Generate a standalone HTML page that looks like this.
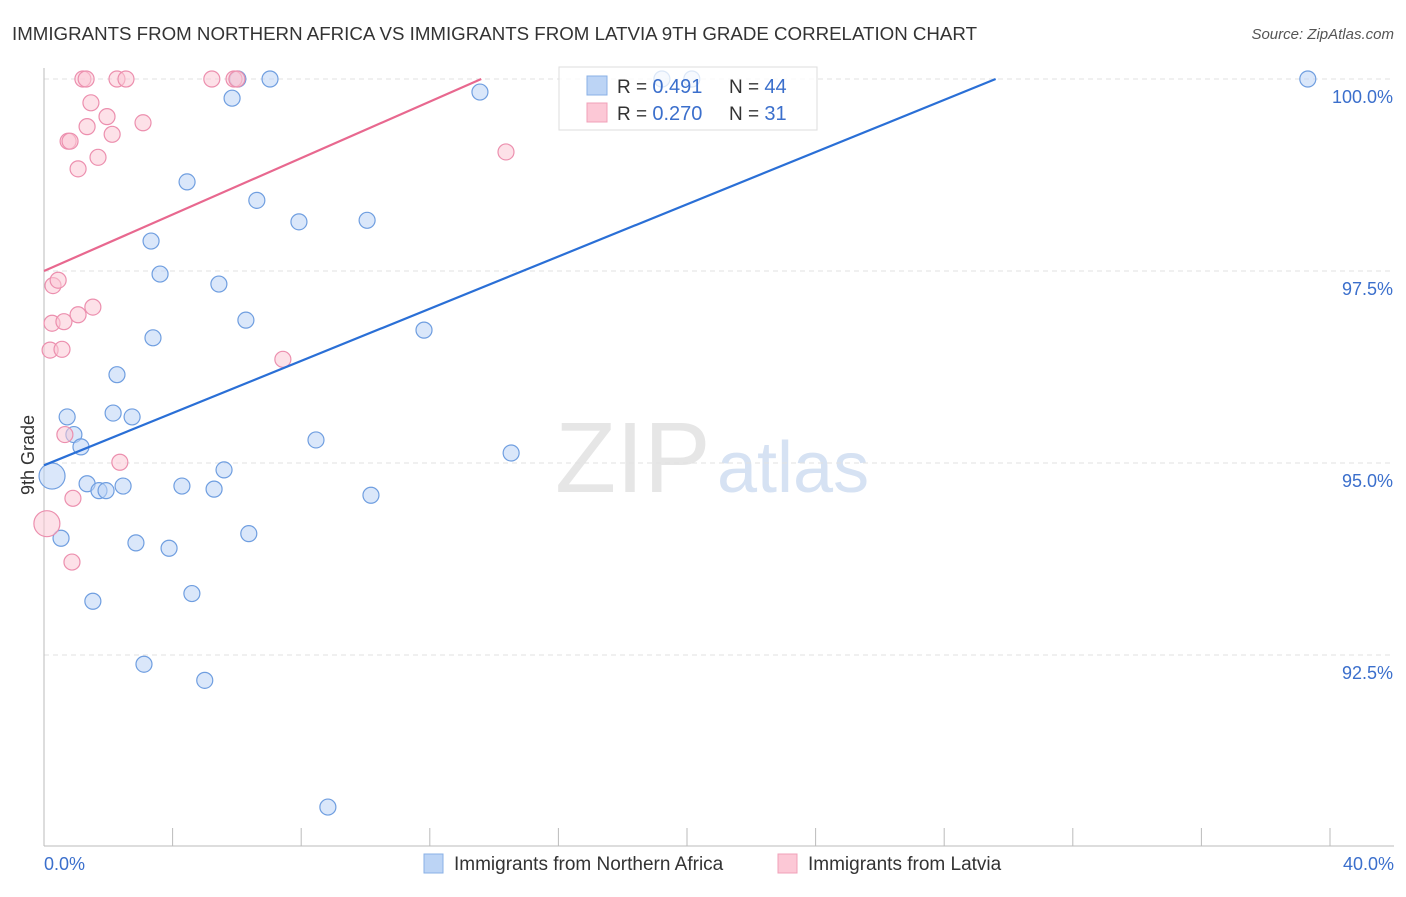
<!DOCTYPE html>
<html><head><meta charset="utf-8"><style>
body{margin:0;background:#fff;font-family:"Liberation Sans",sans-serif;}
svg text{font-family:"Liberation Sans",sans-serif;}
</style></head><body>
<svg id="chart" width="1406" height="892">
<text x="12" y="40" font-size="18" fill="#333" textLength="965" lengthAdjust="spacingAndGlyphs">IMMIGRANTS FROM NORTHERN AFRICA VS IMMIGRANTS FROM LATVIA 9TH GRADE CORRELATION CHART</text>
<text x="1394" y="39" font-size="15" fill="#555" font-style="italic" text-anchor="end">Source: ZipAtlas.com</text>
<text x="555" y="492" font-size="100" fill="#e6e6e6" font-family="Liberation Serif">ZIP</text>
<text x="717" y="492" font-size="72" fill="#d6e2f3">atlas</text>
<g id="grid"></g>
<g id="axes"></g>
<g id="marks"></g>
<text transform="translate(34,455) rotate(-90)" font-size="18" fill="#333" text-anchor="middle">9th Grade</text>
<text x="44" y="870" font-size="18" fill="#3b6fcc">0.0%</text>
<text x="1394" y="870" font-size="18" fill="#3b6fcc" text-anchor="end">40.0%</text>
<g>
<rect x="424" y="854" width="19" height="19" fill="#bcd4f5" stroke="#8ab0e6"/>
<text x="454" y="870" font-size="19" fill="#333">Immigrants from Northern Africa</text>
<rect x="778" y="854" width="19" height="19" fill="#fcc8d6" stroke="#f0a0b8"/>
<text x="808" y="870" font-size="19" fill="#333">Immigrants from Latvia</text>
</g>
<g>
<rect x="559" y="67" width="258" height="63" fill="#fff" fill-opacity="0.75" stroke="#ddd"/>
<rect x="587" y="76" width="20" height="19" fill="#bcd4f5" stroke="#8ab0e6"/>
<text x="617" y="93" font-size="19" fill="#333">R = <tspan fill="#3b6fcc" font-size="20">0.491</tspan></text>
<text x="729" y="93" font-size="19" fill="#333">N = <tspan fill="#3b6fcc" font-size="20">44</tspan></text>
<rect x="587" y="103" width="20" height="19" fill="#fcc8d6" stroke="#f0a0b8"/>
<text x="617" y="120" font-size="19" fill="#333">R = <tspan fill="#3b6fcc" font-size="20">0.270</tspan></text>
<text x="729" y="120" font-size="19" fill="#333">N = <tspan fill="#3b6fcc" font-size="20"> 31</tspan></text>
</g>
<g id="over"></g>
</svg>
<script>
const yTicks=[100,97.5,95,92.5];
const yTickLabels=["100.0%","97.5%","95.0%","92.5%"];
const blueX=[0.25,0.53,0.72,0.93,1.15,1.34,1.52,1.71,1.93,2.15,2.27,2.46,2.74,2.86,3.11,3.33,3.39,3.61,3.89,4.29,4.45,4.6,5.0,5.29,5.44,5.6,5.85,6.03,6.28,6.37,6.62,7.03,7.93,8.46,8.83,10.05,10.17,11.82,13.56,14.53,19.22,20.15,39.31];
const blueY=[94.83,94.02,95.6,95.37,95.21,94.73,93.2,94.64,94.64,95.65,96.15,94.7,95.6,93.96,92.38,97.89,96.63,97.46,93.89,94.7,98.66,93.3,92.17,94.66,97.33,94.91,99.75,100,96.86,94.08,98.42,100,98.14,95.3,90.52,98.16,94.58,96.73,99.83,95.13,100,100,100];
const pinkX=[0.09,0.19,0.25,0.28,0.44,0.56,0.62,0.65,0.87,0.9,0.75,0.81,1.06,1.06,1.21,1.31,1.34,1.46,1.52,1.68,1.96,2.12,2.27,2.36,2.55,3.08,5.22,5.91,6.0,7.43,14.37];
const pinkY=[94.21,96.47,96.82,97.31,97.38,96.48,96.84,95.37,93.71,94.54,99.19,99.19,96.93,98.83,100,100,99.38,99.69,97.03,98.98,99.51,99.28,100,95.01,100,99.43,100,100,100,96.35,99.05];
const blueLine=[[0,94.97],[29.6,100]];
const pinkLine=[[0,97.5],[13.6,100]];
const X0=44,X1=1330,Y100=79,PX25=192;
const xs=v=>X0+(X1-X0)*v/40;
const ys=v=>Y100+(100-v)/2.5*PX25;
const NS="http://www.w3.org/2000/svg";
function mk(tag,attrs,parent){const e=document.createElementNS(NS,tag);for(const k in attrs)e.setAttribute(k,attrs[k]);parent.appendChild(e);return e;}
const grid=document.getElementById('grid'),axes=document.getElementById('axes'),marks=document.getElementById('marks');
yTicks.forEach((t,i)=>{
  const l=mk('line',{x1:44,x2:1394,y1:ys(t),y2:ys(t),stroke:'#e2e2e2','stroke-dasharray':'5,4'},grid);
  
  
  const tx=mk('text',{x:1393,y:ys(t)+24,'font-size':18,fill:'#3b6fcc','text-anchor':'end'},axes);
  tx.textContent=yTickLabels[i];
  
  
});
let al=mk('line',{x1:44,x2:44,y1:68,y2:846,stroke:'#bbb'},axes);


al=mk('line',{x1:44,x2:1394,y1:846,y2:846,stroke:'#bbb'},axes);


for(let i=0;i<=10;i++){
  const tk=mk('line',{x1:xs(i*4),x2:xs(i*4),y1:828,y2:846,stroke:'#bbb'},axes);
  
  
}
function dots(X,Y,fill,stroke,name){
  X.forEach((x,i)=>{
    const r=(i===0)?13:8;
    const c=mk('circle',{cx:xs(x),cy:ys(Y[i]),r:r,fill:fill,'fill-opacity':0.55,stroke:stroke,'stroke-width':1.2},marks);
    
    
  });
}
dots(blueX,blueY,'#bcd4f5','#6f9ee0','point-northern-africa');
dots(pinkX,pinkY,'#fcc8d6','#ec8fae','point-latvia');
let tl=mk('line',{x1:xs(blueLine[0][0]),y1:ys(blueLine[0][1]),x2:xs(blueLine[1][0]),y2:ys(blueLine[1][1]),stroke:'#2a6fd6','stroke-width':2.2},marks);


tl=mk('line',{x1:xs(pinkLine[0][0]),y1:ys(pinkLine[0][1]),x2:xs(pinkLine[1][0]),y2:ys(pinkLine[1][1]),stroke:'#e8688f','stroke-width':2.2},marks);


</script>
</body></html>
